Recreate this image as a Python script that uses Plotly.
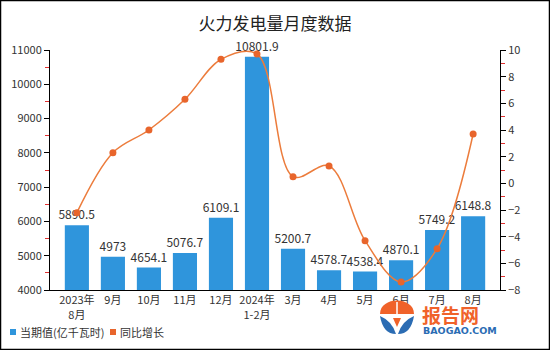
import plotly.graph_objects as go

# Monthly thermal power output (100 million kWh) and year-on-year growth (%)
months = ["2023年<br>8月", "9月", "10月", "11月", "12月", "2024年<br>1-2月",
          "3月", "4月", "5月", "6月", "7月", "8月"]
output = [5890.5, 4973, 4654.1, 5076.7, 6109.1, 10801.9,
          5200.7, 4578.7, 4538.4, 4870.1, 5749.2, 6148.8]
growth = [-2.2, 2.3, 4.0, 6.3, 9.3, 9.7, 0.5, 1.3, -4.3, -7.4, -4.9, 3.7]

bar_name = "当期值(亿千瓦时)"
line_name = "同比增长"

W, H = 550, 350
L, R, T, B = 50, 50, 50, 60
FONT = "Noto Sans CJK SC"
BLUE = "#2f95dc"
ORANGE = "#ec7c3c"
MARK = "#e8652c"


def px_x(x):
    return (x - L) / (W - L - R)


def px_y(y):
    return (H - B - y) / (H - T - B)


def path(points_cmds):
    out = []
    for item in points_cmds:
        if isinstance(item, str):
            out.append(item)
        else:
            out.append(f"{px_x(item[0]):.5f},{px_y(item[1]):.5f}")
    return " ".join(out)


fig = go.Figure()

fig.add_trace(go.Bar(
    x=months, y=output, name=bar_name,
    marker=dict(color=BLUE, line=dict(width=0)),
    text=[f"{v:g}" for v in output], textposition="outside",
    textfont=dict(family=FONT, size=12, color="#333333"),
    constraintext="none", cliponaxis=False, yaxis="y",
))

fig.add_trace(go.Scatter(
    x=months, y=growth, name=line_name, yaxis="y2",
    mode="lines+markers", line=dict(color=ORANGE, width=1.5, shape="spline", smoothing=1.0),
    marker=dict(color=MARK, size=7),
    cliponaxis=False,
))

shapes = [
    # outer frame
    dict(type="rect", xref="paper", yref="paper",
         x0=px_x(0.5), x1=px_x(W - 0.5), y0=px_y(H - 0.5), y1=px_y(0.5),
         line=dict(color="#000000", width=1.5), layer="above"),
    # legend swatches
    dict(type="rect", xref="paper", yref="paper",
         x0=px_x(10), x1=px_x(16), y0=px_y(335), y1=px_y(329),
         fillcolor=BLUE, line=dict(width=0)),
    dict(type="rect", xref="paper", yref="paper",
         x0=px_x(110), x1=px_x(116), y0=px_y(335), y1=px_y(329),
         fillcolor=MARK, line=dict(width=0)),
    # logo: orange dome
    dict(type="path", xref="paper", yref="paper",
         path=path(["M", (380, 314), "C", (380, 296), (414, 296), (414, 314), "Z"]),
         fillcolor="#f0622a", line=dict(width=0)),
    dict(type="line", xref="paper", yref="paper",
         x0=px_x(397), x1=px_x(397), y0=px_y(302), y1=px_y(322),
         line=dict(color="white", width=1.5)),
    # logo: blue leaves
    dict(type="path", xref="paper", yref="paper",
         path=path(["M", (380, 316), "Q", (383, 334), (396, 334), "Q", (392, 321), (380, 316), "Z"]),
         fillcolor="#2b6cb3", line=dict(width=0)),
    dict(type="path", xref="paper", yref="paper",
         path=path(["M", (414, 316), "Q", (411, 334), (398, 334), "Q", (402, 321), (414, 316), "Z"]),
         fillcolor="#2b6cb3", line=dict(width=0)),
    dict(type="path", xref="paper", yref="paper",
         path=path(["M", (393, 318), "L", (401, 318), "L", (397, 327), "Z"]),
         fillcolor="#f0622a", line=dict(width=0)),
]

annotations = [
    dict(text=bar_name, xref="paper", yref="paper", x=px_x(18), y=px_y(332),
         xanchor="left", yanchor="middle", showarrow=False,
         font=dict(family=FONT, size=11, color="#333333")),
    dict(text=line_name, xref="paper", yref="paper", x=px_x(118), y=px_y(332),
         xanchor="left", yanchor="middle", showarrow=False,
         font=dict(family=FONT, size=11, color="#333333")),
    dict(text="报告网", xref="paper", yref="paper", x=px_x(421), y=px_y(314),
         xanchor="left", yanchor="middle", showarrow=False, borderpad=0,
         font=dict(family=FONT, size=19, color="#f0622a", weight="bold")),
    dict(text="BAOGAO.COM", xref="paper", yref="paper", x=px_x(422), y=px_y(330),
         xanchor="left", yanchor="middle", showarrow=False, borderpad=0,
         font=dict(family="DejaVu Sans", size=9.5, color="#2b6cb3", weight="bold")),
]

fig.update_layout(
    width=W, height=H,
    margin=dict(l=L, r=R, t=T, b=B),
    paper_bgcolor="white", plot_bgcolor="white",
    font=dict(family=FONT, size=11, color="#333333"),
    title=dict(text="火力发电量月度数据", x=0.5, xanchor="center", y=1 - 24 / H, yanchor="middle",
               font=dict(family=FONT, size=17, color="#222222")),
    bargap=0.33,
    showlegend=False,
    xaxis=dict(
        type="category", showline=True, linecolor="#000000", linewidth=1,
        ticks="", showgrid=False, tickfont=dict(size=11, color="#333333"),
        ticklabelstandoff=0,
    ),
    yaxis=dict(
        range=[4000, 11000], dtick=1000, tick0=4000, tickformat="d",
        showgrid=False, zeroline=False,
        showline=True, linecolor="#000000", linewidth=1,
        ticks="outside", ticklen=5, tickcolor="#000000",
        minor=dict(dtick=500, ticks="outside", ticklen=4, tickcolor="#e03030"),
        tickfont=dict(size=11, color="#333333"),
    ),
    yaxis2=dict(
        range=[-8, 10], dtick=2, tick0=-8, overlaying="y", side="right",
        showgrid=False, zeroline=False,
        showline=True, linecolor="#000000", linewidth=1,
        ticks="outside", ticklen=5, tickcolor="#000000",
        minor=dict(dtick=1, ticks="outside", ticklen=4, tickcolor="#e03030"),
        tickfont=dict(size=11, color="#333333"),
    ),
    shapes=shapes,
    annotations=annotations,
)

fig.write_html("out.html")
